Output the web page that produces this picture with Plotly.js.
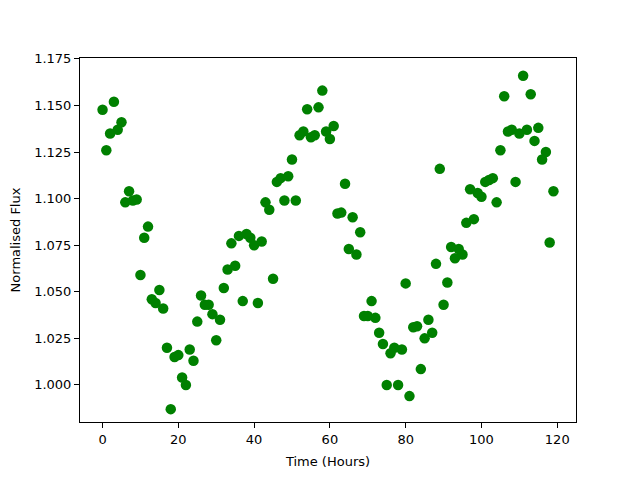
<!DOCTYPE html>
<html>
<head>
<meta charset="utf-8">
<script src="https://cdn.plot.ly/plotly-3.0.1.min.js"></script>
<style>html,body{margin:0;padding:0;background:#fff;}#chart{width:640px;height:480px;}</style>
</head>
<body>
<div id="chart"></div>
<script>
const timeHours = [0,1,2,3,4,5,6,7,8,9,10,11,12,13,14,15,16,17,18,19,20,21,22,23,24,25,26,27,28,29,30,31,32,33,34,35,36,37,38,39,40,41,42,43,44,45,46,47,48,49,50,51,52,53,54,55,56,57,58,59,60,61,62,63,64,65,66,67,68,69,70,71,72,73,74,75,76,77,78,79,80,81,82,83,84,85,86,87,88,89,90,91,92,93,94,95,96,97,98,99,100,101,102,103,104,105,106,107,108,109,110,111,112,113,114,115,116,117,118,119];
const normFlux = [
1.1477,1.126,1.135,1.152,1.137,1.141,1.098,1.104,1.099,1.0995,
1.059,1.079,1.085,1.046,1.044,1.051,1.041,1.020,0.987,1.015,
1.016,1.004,1.000,1.019,1.013,1.034,1.048,1.043,1.043,1.038,
1.024,1.035,1.052,1.062,1.076,1.064,1.080,1.045,1.081,1.079,
1.075,1.044,1.077,1.098,1.094,1.057,1.109,1.111,1.099,1.112,
1.121,1.099,1.134,1.136,1.148,1.133,1.134,1.149,1.158,1.136,
1.132,1.139,1.092,1.0925,1.108,1.073,1.090,1.070,1.082,1.037,
1.037,1.045,1.036,1.028,1.022,1.000,1.017,1.020,1.000,1.019,
1.0545,0.994,1.031,1.0315,1.0085,1.025,1.035,1.028,1.065,1.116,
1.043,1.055,1.074,1.068,1.073,1.070,1.087,1.105,1.089,1.103,
1.101,1.109,1.110,1.111,1.098,1.126,1.155,1.136,1.137,1.109,
1.135,1.166,1.137,1.156,1.131,1.138,1.121,1.125,1.0765,1.104];
const xTicks = [0,20,40,60,80,100,120];
const yTicks = [1.000,1.025,1.050,1.075,1.100,1.125,1.150,1.175];

const font = {family: 'DejaVu Sans, sans-serif', size: 13, color: '#000'};
const axisCommon = {
  showgrid: false, zeroline: false, showline: true, linecolor: '#000', linewidth: 1,
  mirror: true, ticks: 'outside', ticklen: 5, tickwidth: 1, tickcolor: '#000',
  tickfont: font
};
Plotly.newPlot('chart', [{
  x: timeHours, y: normFlux, type: 'scatter', mode: 'markers',
  marker: {color: '#008000', size: 10.5}
}], {
  width: 640, height: 480,
  margin: {l: 80, r: 64, t: 58, b: 58},
  paper_bgcolor: '#fff', plot_bgcolor: '#fff',
  showlegend: false,
  font: font,
  xaxis: Object.assign({}, axisCommon, {
    range: [-5.95, 124.95], tickvals: xTicks,
    title: {text: 'Time (Hours)', font: font, standoff: 11}
  }),
  yaxis: Object.assign({}, axisCommon, {
    range: [0.9801, 1.1755], tickvals: yTicks, tickformat: '.3f',
    title: {text: 'Normalised Flux', font: font, standoff: 10}
  })
}, {displayModeBar: false, staticPlot: true});
</script>
</body>
</html>
